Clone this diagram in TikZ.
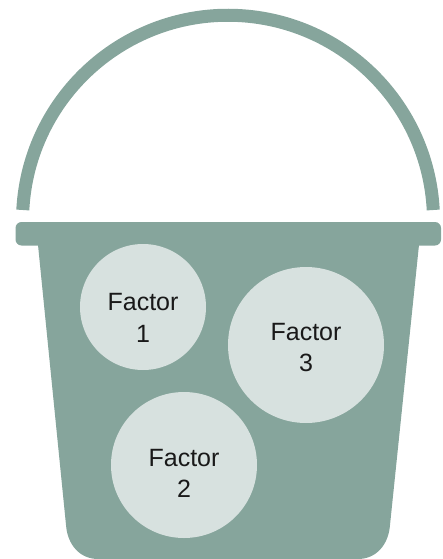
\documentclass[tikz,border=0pt]{standalone}
\usepackage{fontspec}
\setmainfont{Liberation Sans}
\definecolor{bucketgreen}{HTML}{86A59C}
\definecolor{factorfill}{HTML}{D7E1DF}
\newcommand*{\xmin}{0}
\newcommand*{\xmax}{443}
\newcommand*{\ymin}{0}
\newcommand*{\ymax}{559}
\begin{document}
\begin{tikzpicture}
[
	factor/.style={circle,fill=factorfill,inner sep=0pt},
	factortext/.style={inner sep=0pt,align=center,text=black!90,
		font=\fontsize{25}{31.5}\selectfont},
	x=1pt,
	y=-1pt
]
	\useasboundingbox (\xmin,\ymin) rectangle (\xmax,\ymax);

	% handle
	\draw[bucketgreen,line width=13pt]
	  (22.8,210) arc[start angle=177,end angle=3,radius=205.5pt];

	% rim
	\fill[bucketgreen,rounded corners=6pt] (15.5,222) rectangle (441,245.5);

	% body
	\fill[bucketgreen]
	  (37.5,240)
	  -- (66,525)
	  .. controls (67.5,545) and (80,559) .. (98,559)
	  -- (358,559)
	  .. controls (376,559) and (388.5,545) .. (390,525)
	  -- (419.5,240)
	  -- cycle
	;

	% factors
	\node[factor,minimum size=126pt] (factor1) at (143,307) {};
	\node[factor,minimum size=156pt] (factor3) at (306,345) {};
	\node[factor,minimum size=146pt] (factor2) at (184,465) {};

	% label factors
	\node[factortext] (text1) at (143,318) {Factor\\1};
	\node[factortext] (text3) at (306,347.5) {Factor\\3};
	\node[factortext] (text2) at (184,473.5) {Factor\\2};

\end{tikzpicture}
\end{document}
